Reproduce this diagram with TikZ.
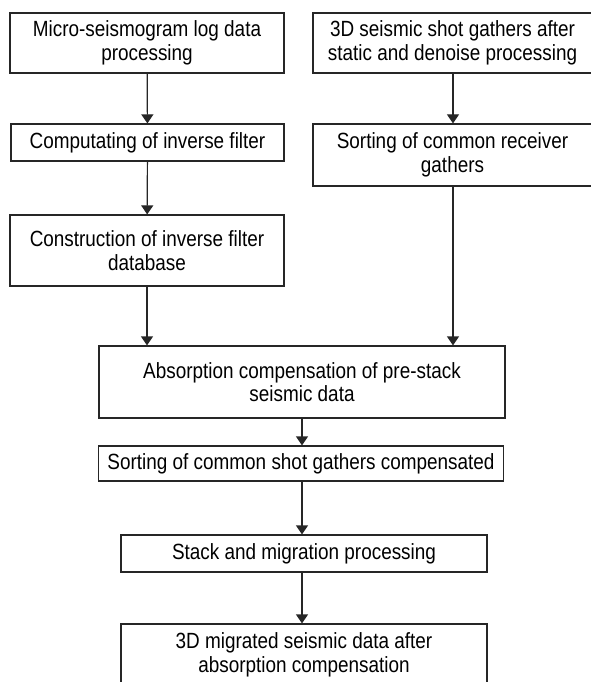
\documentclass[tikz,border=0pt]{standalone}
\usepackage{fontspec}
\setmainfont{Liberation Sans}[FakeStretch=0.86]
\usetikzlibrary{arrows.meta}

\begin{document}
\begin{tikzpicture}[x=1pt, y=-1pt,
    box/.style={draw=black!85, line width=1.2pt, inner sep=0pt, align=center,
                font=\fontsize{22}{23.5}\selectfont},
    flow/.style={draw=black!85, line width=1.2pt, -{Triangle[width=12pt,length=9pt]}}]
  \useasboundingbox (0,0) rectangle (590,682);
  % left column
  \node[box, minimum width=274, minimum height=60] (logproc) at (147,43)
    {Micro-seismogram log data\\processing};
  \node[box, minimum width=273, minimum height=37] (invfilt) at (147.5,142.5)
    {Computating of inverse filter};
  \node[box, minimum width=274, minimum height=71] (filtdb) at (147,250.5)
    {Construction of inverse filter\\database};
  % right column (runs off the page)
  \node[box, minimum width=284, minimum height=60] (shotgath) at (455,43)
    {\hspace*{-5pt}3D seismic shot gathers after\\\hspace*{-5pt}static and denoise processing};
  \node[box, minimum width=284, minimum height=62] (recvsort) at (455,155)
    {\hspace*{-5pt}Sorting of common receiver\\\hspace*{-5pt}gathers};
  % main chain
  \node[box, minimum width=406, minimum height=72] (abscomp) at (302,382)
    {Absorption compensation of pre-stack\\seismic data};
  \node[box, minimum width=405, minimum height=35] (shotsort) at (301,463.5)
    {Sorting of common shot gathers compensated};
  \node[box, minimum width=366, minimum height=37] (stackmig) at (304,553.5)
    {Stack and migration processing};
  \node[box, minimum width=366, minimum height=62] (result) at (304,655)
    {3D migrated seismic data after\\absorption compensation};

  \draw[flow] (logproc) -- (invfilt);
  \draw[flow] (invfilt) -- (filtdb);
  \draw[flow] ([xshift=-2pt]shotgath.south) -- ([xshift=-2pt]recvsort.north);
  \draw[flow] (filtdb.south) -- (filtdb.south |- abscomp.north);
  \draw[flow] ([xshift=-2pt]recvsort.south) -- ([xshift=-2pt]recvsort.south |- abscomp.north);
  \draw[flow] (abscomp.south) -- (abscomp.south |- shotsort.north);
  \draw[flow] (abscomp.south |- shotsort.south) -- (abscomp.south |- stackmig.north);
  \draw[flow] (abscomp.south |- stackmig.south) -- (abscomp.south |- result.north);
\end{tikzpicture}
\end{document}
